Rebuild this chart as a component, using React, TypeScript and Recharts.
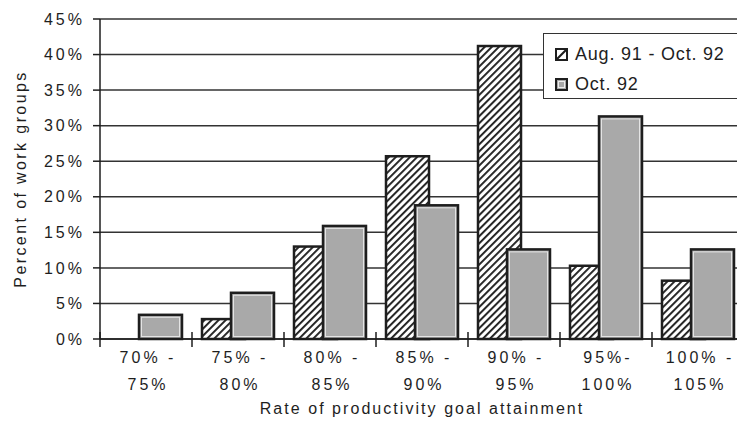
import React from "react";
import {
  BarChart,
  Bar,
  XAxis,
  YAxis,
  CartesianGrid,
  Legend,
} from "recharts";

const categories = ["70-75", "75-80", "80-85", "85-90", "90-95", "95-100", "100-105"];
const tickTop = ["70% -", "75% -", "80% -", "85% -", "90% -", "95%-", "100% -"];
const tickBottom = ["75%", "80%", "85%", "90%", "95%", "100%", "105%"];
const augToOct = [0, 2.8, 13.0, 25.7, 41.2, 10.3, 8.2];
const oct92 = [3.4, 6.5, 15.9, 18.8, 12.6, 31.3, 12.6];
const yTicks = [0, 5, 10, 15, 20, 25, 30, 35, 40, 45];

const data = categories.map((c, i) => ({
  cat: c,
  top: tickTop[i],
  bottom: tickBottom[i],
  aug: augToOct[i],
  oct: oct92[i],
}));

const FONT = "'Liberation Sans', Arial, Helvetica, sans-serif";
const INK = "#1e1e1e";

const XTick = (props: any) => {
  const { x, y, payload, index } = props;
  const half = payload?.offset ?? 46;
  const row = data[index] ?? data.find((d) => d.cat === payload.value);
  const edge = x - half;
  return (
    <g>
      <line x1={edge} x2={edge} y1={y - 7} y2={y + 8} stroke={INK} strokeWidth={1.5} />
      <text
        x={x + 2}
        y={y + 24}
        textAnchor="middle"
        fontFamily={FONT}
        fontSize={16}
        letterSpacing={3}
        fill={INK}
      >
        {row?.top}
      </text>
      <text
        x={x + 2}
        y={y + 51}
        textAnchor="middle"
        fontFamily={FONT}
        fontSize={16}
        letterSpacing={3}
        fill={INK}
      >
        {row?.bottom}
      </text>
    </g>
  );
};

const HatchBar = (props: any) => {
  const { x, y, width, height } = props;
  if (!height || height <= 0) return null;
  return (
    <rect x={x} y={y} width={width} height={height} fill="url(#hatch)" stroke={INK} strokeWidth={2.5} />
  );
};

const GrayBar = (props: any) => {
  const { x, y, width, height } = props;
  if (!height || height <= 0) return null;
  return (
    <g>
      <rect x={x} y={y} width={width} height={height} fill="#a9a9a9" stroke={INK} strokeWidth={2.5} />
      <rect
        x={x + 2.5}
        y={y + 2.5}
        width={Math.max(0, width - 5)}
        height={Math.max(0, height - 5)}
        fill="none"
        stroke="#e4e4e4"
        strokeWidth={1}
      />
    </g>
  );
};

const LegendBox = () => (
  <div
    style={{
      border: "1px solid #333",
      background: "#fff",
      width: 220,
      height: 66,
      boxSizing: "border-box",
      fontFamily: FONT,
      fontSize: 18,
      letterSpacing: 0.8,
      color: INK,
      paddingLeft: 11,
      paddingTop: 6,
    }}
  >
    <div style={{ display: "flex", alignItems: "center", height: 28 }}>
      <svg width={13} height={13} style={{ marginRight: 7 }}>
        <rect x={1} y={1} width={11} height={11} fill="#fff" stroke={INK} strokeWidth={2} />
        <line x1={2} y1={11} x2={11} y2={2} stroke={INK} strokeWidth={2.2} />
      </svg>
      <span>Aug. 91 - Oct. 92</span>
    </div>
    <div style={{ display: "flex", alignItems: "center", height: 32 }}>
      <svg width={13} height={13} style={{ marginRight: 7 }}>
        <rect x={1} y={1} width={11} height={11} fill="#a9a9a9" stroke={INK} strokeWidth={2} />
        <rect x={3.5} y={3.5} width={6} height={6} fill="none" stroke="#eee" strokeWidth={1} />
      </svg>
      <span>Oct. 92</span>
    </div>
  </div>
);

export default function App() {
  return (
    <div
      style={{
        position: "fixed",
        left: 0,
        top: 0,
        width: 737,
        height: 443,
        overflow: "hidden",
        background: "#fff",
      }}
    >
      <BarChart
        width={760}
        height={443}
        data={data}
        margin={{ top: 19, right: 16, left: 0, bottom: 0 }}
        barSize={43}
        barGap={-14}
      >
        <defs>
          <pattern id="hatch" width={5} height={5} patternUnits="userSpaceOnUse" patternTransform="rotate(45)">
            <rect width={5} height={5} fill="#fff" />
            <rect x={0} y={0} width={1.9} height={5} fill={INK} />
          </pattern>
        </defs>
        <CartesianGrid vertical={false} stroke="#333" strokeWidth={1.5} />
        <XAxis
          dataKey="cat"
          height={104}
          interval={0}
          tickSize={0}
          tickMargin={0}
          axisLine={{ stroke: INK, strokeWidth: 1.5 }}
          tickLine={false}
          tick={<XTick />}
          label={{
            value: "Rate of productivity goal attainment",
            position: "insideBottom",
            offset: 29,
            style: { fontFamily: FONT, fontSize: 16, letterSpacing: 2.05, fill: INK },
          }}
        />
        <YAxis
          width={100}
          domain={[0, 45]}
          ticks={yTicks}
          interval={0}
          tickSize={7}
          tickMargin={8}
          tickFormatter={(v: number) => `${v}%`}
          axisLine={{ stroke: INK, strokeWidth: 1.5 }}
          tickLine={{ stroke: INK, strokeWidth: 1.5 }}
          tick={{ fontFamily: FONT, fontSize: 16, letterSpacing: 3, fill: INK }}
          label={{
            content: (p: any) => {
              const vb = p.viewBox || { x: 0, y: 19, height: 320 };
              const cx = vb.x + 20;
              const cy = vb.y + vb.height / 2;
              return (
                <text
                  x={cx}
                  y={cy}
                  transform={`rotate(-90 ${cx} ${cy})`}
                  textAnchor="middle"
                  dominantBaseline="central"
                  fontFamily={FONT}
                  fontSize={16}
                  letterSpacing={2.4}
                  fill={INK}
                >
                  Percent of work groups
                </text>
              );
            },
          }}
        />
        <Legend
          layout="vertical"
          align="center"
          verticalAlign="middle"
          content={() => <LegendBox />}
          wrapperStyle={{ left: 543, top: 33, width: 220, height: 66 }}
        />
        <Bar dataKey="aug" name="Aug. 91 - Oct. 92" shape={<HatchBar />} isAnimationActive={false} />
        <Bar dataKey="oct" name="Oct. 92" shape={<GrayBar />} isAnimationActive={false} />
      </BarChart>
    </div>
  );
}
